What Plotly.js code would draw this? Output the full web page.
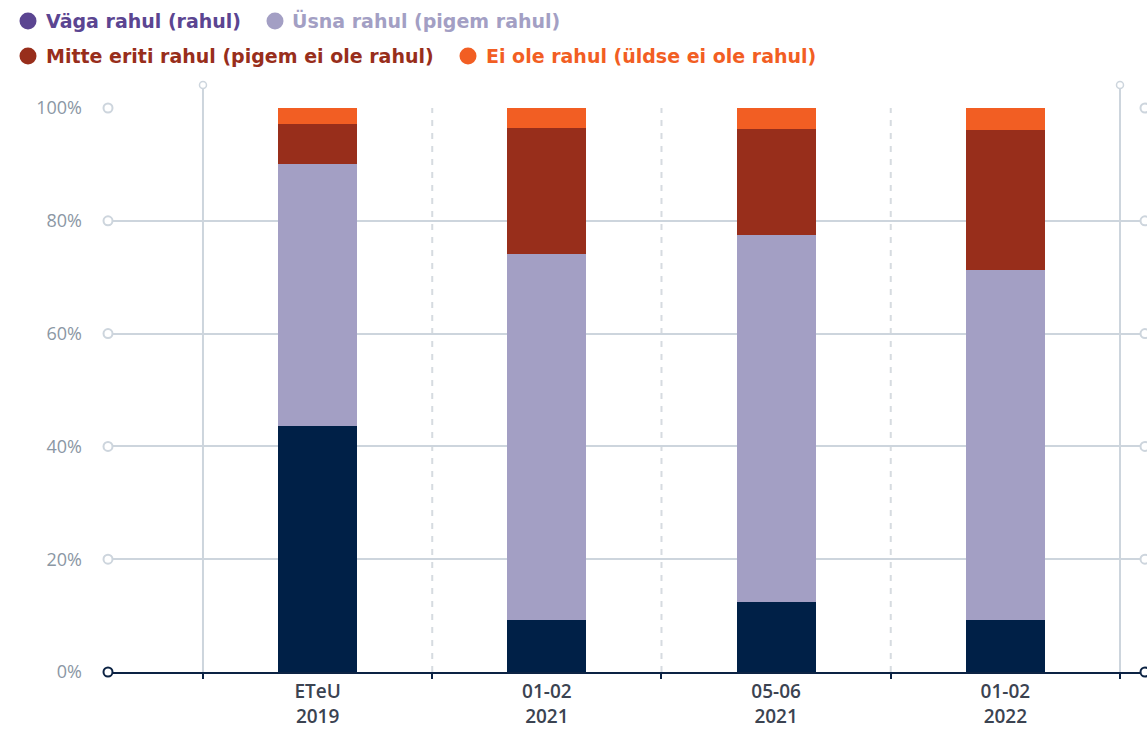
<!DOCTYPE html>
<html>
<head>
<meta charset="utf-8">
<script src="https://cdn.plot.ly/plotly-3.0.1.min.js"></script>
<style>html,body{margin:0;padding:0;background:#fff;}#chart{width:1147px;height:729px;}</style>
</head>
<body>
<div id="chart"></div>
<script>
const categories = ['ETeU<br>2019', '01-02<br>2021', '05-06<br>2021', '01-02<br>2022'];
const seriesNames = ['Väga rahul (rahul)', 'Üsna rahul (pigem rahul)', 'Mitte eriti rahul (pigem ei ole rahul)', 'Ei ole rahul (üldse ei ole rahul)'];
const vaga  = [43.6, 9.2, 12.4, 9.2];
const usna  = [46.5, 65.0, 65.1, 62.1];
const mitte = [7.1, 22.3, 18.8, 24.8];
const ei    = [2.8, 3.5, 3.7, 3.9];
const yTicks = [0, 20, 40, 60, 80, 100];
const yTickText = ['0%', '20%', '40%', '60%', '80%', '100%'];

const barColors = ['#002047', '#a39fc4', '#982e1b', '#f25e23'];
const legendColors = ['#5b4591', '#a39fc4', '#982e1b', '#f25e23'];
const seriesValues = [vaga, usna, mitte, ei];

const W = 1147, H = 729;
const mL = 108, mR = 2, mT = 108, mB = 57;
const pw = W - mL - mR, ph = H - mT - mB;
const px = v => (v - mL) / pw;
const py = v => (H - mB - v) / ph;

const traces = seriesValues.map((vals, i) => ({
  type: 'bar',
  x: categories,
  y: vals,
  name: seriesNames[i],
  width: 0.345,
  marker: {color: barColors[i], line: {width: 0}},
  showlegend: false,
  hoverinfo: 'skip'
}));

const grey = '#cdd5dd';
const navy = '#0c2344';
const shapes = [];
// separators
[-0.5, 3.5].forEach(c => {
  shapes.push({type: 'line', xref: 'x', yref: 'paper', x0: c, x1: c, y0: 0, y1: py(89), line: {color: grey, width: 2}, layer: 'below'});
  shapes.push({type: 'circle', xref: 'x', yref: 'paper', xsizemode: 'pixel', ysizemode: 'pixel', xanchor: c, yanchor: py(85), x0: -3.5, x1: 3.5, y0: -3.5, y1: 3.5, fillcolor: '#fff', line: {color: grey, width: 1.5}, layer: 'above'});
});
[0.5, 1.5, 2.5].forEach(c => {
  shapes.push({type: 'line', xref: 'x', yref: 'paper', x0: c, x1: c, y0: 0, y1: 1, line: {color: '#d6dbe0', width: 2, dash: '6px,7px'}, layer: 'below'});
});
// gridline end circles
yTicks.forEach(t => {
  const isZero = t === 0;
  [0, 1].forEach(xp => {
    shapes.push({type: 'circle', xref: 'paper', yref: 'paper', xsizemode: 'pixel', ysizemode: 'pixel', xanchor: xp, yanchor: t / 100, x0: -4.5, x1: 4.5, y0: -4.5, y1: 4.5, fillcolor: '#fff', line: {color: isZero ? navy : grey, width: 2}, layer: 'above'});
  });
});
// legend markers
const legendPos = [[28, 21], [275, 21], [28, 56], [468, 56]];
legendPos.forEach((p, i) => {
  shapes.push({type: 'circle', xref: 'paper', yref: 'paper', xsizemode: 'pixel', ysizemode: 'pixel', xanchor: px(p[0]), yanchor: py(p[1]), x0: -8.5, x1: 8.5, y0: -8.5, y1: 8.5, fillcolor: legendColors[i], line: {width: 0}});
});
const textPos = [[44, 21], [290, 21], [44, 56], [484, 56]];
const annotations = textPos.map((p, i) => ({
  xref: 'paper', yref: 'paper', x: px(p[0]), y: py(p[1]), xanchor: 'left', yanchor: 'middle',
  text: seriesNames[i], showarrow: false,
  font: {family: 'DejaVu Sans, sans-serif', size: 19, weight: 700, color: legendColors[i]}
}));

const layout = {
  width: W, height: H,
  margin: {l: mL, r: mR, t: mT, b: mB, pad: 0},
  paper_bgcolor: '#fff', plot_bgcolor: '#fff',
  barmode: 'stack',
  showlegend: false,
  xaxis: {
    type: 'category',
    range: [-0.5 - 95 / 229.3, 3.5 + 25 / 229.3],
    showgrid: false, zeroline: false,
    showline: true, linecolor: navy, linewidth: 2,
    ticks: 'outside', tickson: 'boundaries', ticklen: 5, tickwidth: 2, tickcolor: navy,
    ticklabelstandoff: 1,
    tickfont: {family: 'Open Sans, sans-serif', size: 19, weight: 600, color: '#3b4351'}
  },
  yaxis: {
    range: [0, 100], tickvals: yTicks, ticktext: yTickText,
    showgrid: true, gridcolor: grey, gridwidth: 2,
    zeroline: false, showline: false, ticks: '',
    ticklabelstandoff: 25,
    tickfont: {family: 'Open Sans, sans-serif', size: 18, weight: 400, color: '#8b97a4'}
  },
  shapes: shapes,
  annotations: annotations
};

Plotly.newPlot('chart', traces, layout, {displayModeBar: false, staticPlot: true});
</script>
</body>
</html>
